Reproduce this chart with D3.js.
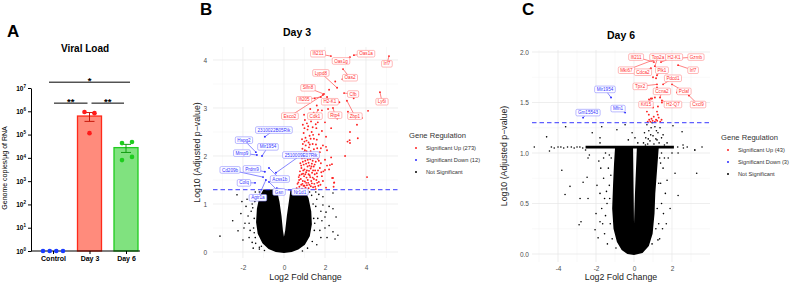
<!DOCTYPE html>
<html>
<head>
<meta charset="utf-8">
<script src="https://cdn.jsdelivr.net/npm/d3@7"></script>
<style>
  body { margin: 0; background: #fff; }
  svg { display: block; font-family: "Liberation Sans", Arial, sans-serif; }
</style>
</head>
<body>
<svg id="chart" width="794" height="284"></svg>
<script>
// ---------- Panel A data ----------
const groups = ['Control', 'Day 3', 'Day 6'];
const controlCopies = [1, 1, 1, 1];
const day3Copies = [9.3e5, 8.3e5, 1.15e5];
const day6Copies = [4.3e4, 4.8e4, 8.0e3, 1.1e4];
const logTicks = [0, 1, 2, 3, 4, 5, 6, 7];
// bracket height given in log10(copies)
const sigBrackets = [
  { a: 'Control', b: 'Day 6', label: '*', level: 7.25 },
  { a: 'Control', b: 'Day 3', label: '**', level: 6.35 },
  { a: 'Day 3', b: 'Day 6', label: '**', level: 6.35 }
];

// ---------- Panel B (Day 3) data: [log2FC, -log10 padj] ----------
const day3LegendCounts = [273, 12];
const day3UpGenes = ['Ifi211', 'Oas1g', 'Oas1a', 'Irf7', 'Lypd8', 'Oas2', 'Cfb', 'Ly6i', 'Slfn8', 'Ifi205', 'H2-K1', 'Esco2', 'Cdk1', 'Rtp4', 'Zbp1'];
const day3UpLabelled = [[2.29, 4.08], [3.22, 4.06], [3.41, 4.10], [5.12, 4.08], [2.59, 3.42], [2.88, 3.81], [2.93, 3.31], [4.68, 3.33], [1.95, 3.29], [1.80, 3.23], [2.10, 3.23], [1.90, 3.27], [1.66, 2.96], [2.39, 3.00], [3.07, 3.15]];
const day3UpLabelPos = [[1.66, 4.13], [2.78, 3.98], [4.0, 4.13], [5.02, 3.92], [1.80, 3.73], [3.22, 3.63], [3.37, 3.29], [4.78, 3.13], [1.17, 3.42], [0.98, 3.17], [2.24, 3.13], [0.29, 2.83], [1.51, 2.83], [2.49, 2.85], [3.46, 2.83]];
const day3UpOther = [
  [0.62, 1.33], [0.75, 1.36], [0.88, 1.32], [0.95, 1.38], [1.05, 1.34], [1.12, 1.39], [1.2, 1.33], [1.31, 1.37], [1.42, 1.35], [1.55, 1.31], [1.68, 1.38], [2.05, 1.34], [2.42, 1.36], [2.45, 1.45],
  [0.7, 1.45], [0.82, 1.52], [0.9, 1.42], [0.98, 1.58], [1.02, 1.47], [1.1, 1.55], [1.18, 1.44], [1.25, 1.6], [1.33, 1.48], [1.4, 1.55], [1.48, 1.42], [1.58, 1.5], [1.7, 1.46], [1.85, 1.58], [2.35, 1.54], [4.05, 1.56], [0.76, 1.6], [1.62, 1.57],
  [0.78, 1.68], [0.85, 1.75], [0.93, 1.63], [1.0, 1.72], [1.08, 1.66], [1.15, 1.78], [1.22, 1.69], [1.3, 1.74], [1.37, 1.65], [1.45, 1.78], [1.52, 1.7], [1.6, 1.64], [1.75, 1.75], [1.92, 1.68], [2.1, 1.8], [2.2, 1.72],
  [0.8, 1.85], [0.88, 1.95], [0.96, 1.82], [1.04, 1.9], [1.12, 1.98], [1.2, 1.86], [1.28, 1.93], [1.36, 1.84], [1.44, 1.96], [1.55, 1.88], [1.65, 1.94], [1.8, 1.85], [2.0, 1.92], [2.98, 2.0], [2.3, 1.97],
  [0.82, 2.05], [0.9, 2.15], [0.98, 2.08], [1.06, 2.22], [1.14, 2.04], [1.22, 2.18], [1.3, 2.1], [1.4, 2.25], [1.5, 2.06], [1.62, 2.16], [1.75, 2.08], [1.9, 2.22], [2.1, 2.12], [1.2, 2.28], [3.1, 2.3], [3.2, 2.33],
  [0.88, 2.35], [0.96, 2.48], [1.05, 2.38], [1.15, 2.55], [1.25, 2.42], [1.35, 2.5], [1.46, 2.36], [1.58, 2.58], [1.7, 2.45], [1.85, 2.52], [2.05, 2.4], [2.3, 2.58],
  [0.92, 2.65], [1.02, 2.75], [1.12, 2.68], [1.22, 2.85], [1.32, 2.72], [1.45, 2.9], [1.55, 2.66], [1.7, 2.8], [1.85, 2.95], [2.0, 2.7], [2.25, 2.82], [2.6, 2.78], [2.15, 2.98],
  [1.6, 3.05], [2.7, 3.12], [3.4, 3.2], [4.1, 2.94], [3.12, 2.92], [3.8, 2.79], [3.56, 2.65], [3.22, 2.5], [3.6, 2.37], [2.5, 3.55], [2.85, 3.6], [1.5, 3.2], [2.2, 3.38],
  [2.39, 1.54], [2.44, 1.44], [2.24, 1.81], [2.34, 1.83], [2.0, 1.71], [2.05, 2.19], [3.22, 2.27],
  [0.66, 1.42], [0.74, 1.5], [0.84, 1.4], [0.92, 1.48], [1.0, 1.38], [1.08, 1.44], [1.16, 1.5], [1.24, 1.4], [1.36, 1.43], [1.46, 1.52], [1.52, 1.36], [1.62, 1.44], [1.78, 1.4], [1.9, 1.48],
  [0.72, 1.56], [0.86, 1.62], [0.94, 1.7], [1.04, 1.62], [1.12, 1.7], [1.2, 1.62], [1.28, 1.56], [1.34, 1.78], [1.42, 1.7], [1.5, 1.62], [1.66, 1.7], [1.82, 1.66],
  [0.84, 1.8], [0.92, 1.88], [1.0, 1.96], [1.08, 1.84], [1.16, 1.92], [1.24, 1.8], [1.32, 1.98], [1.4, 1.9], [1.5, 1.82], [1.6, 2.0], [1.7, 1.9],
  [0.86, 1.98], [0.94, 2.0], [1.02, 2.12], [1.1, 2.1], [1.18, 2.0], [1.26, 2.24], [1.34, 2.02], [1.46, 2.14], [1.56, 2.24], [1.68, 2.0], [1.8, 2.16],
  [0.92, 2.25], [1.0, 2.3], [1.1, 2.32], [1.3, 2.36], [1.42, 2.44], [1.6, 2.34], [1.0, 2.58], [1.18, 2.62], [1.4, 2.6], [1.65, 2.7], [0.98, 2.86], [1.28, 2.98]
];
const day3DownGenes = ['2310022B05Rik', 'Hspg2', 'Mir1954', 'Mmp9', '2510009E07Rik', 'Cd209b', 'Prdm9', 'Acss1b', 'Colq', 'Gsn', 'Nr1d1', 'Agtr1a'];
const day3Down = [[-0.93, 2.40], [-1.37, 2.08], [-1.07, 2.00], [-1.32, 2.02], [-0.39, 1.65], [-1.02, 1.56], [-0.93, 1.67], [-0.73, 1.75], [-1.41, 1.44], [-0.73, 1.46], [-0.35, 1.33], [-0.88, 1.50]];
const day3DownLabelPos = [[-0.49, 2.54], [-1.95, 2.33], [-0.78, 2.19], [-2.05, 2.06], [0.83, 2.02], [-2.63, 1.71], [-1.56, 1.73], [-0.20, 1.52], [-1.95, 1.44], [-0.24, 1.25], [0.78, 1.25], [-1.27, 1.13]];
// outline of the solid non-significant cloud
const day3Core = [
  [[0, -0.02], [-0.4, 0.0], [-0.75, 0.06], [-1.05, 0.18], [-1.28, 0.38], [-1.36, 0.62], [-1.32, 0.9], [-1.2, 1.15], [-1.0, 1.3], [-0.35, 1.3], [-0.22, 1.05], [-0.12, 0.75], [-0.05, 0.45], [0.0, 0.32], [0.06, 0.45], [0.14, 0.75], [0.24, 1.05], [0.32, 1.3], [1.0, 1.3], [1.2, 1.12], [1.33, 0.85], [1.36, 0.58], [1.26, 0.33], [1.02, 0.15], [0.7, 0.05], [0.38, 0.0]]
];
const day3NS = [
  [-3.12, 0.33], [-2.24, 0.44], [-2.29, 1.19], [-1.9, 0.6], [-1.85, 0.95], [-1.7, 0.3], [-2.0, 0.25], [-1.6, 1.15], [-1.75, 0.75], [-1.95, 0.5], [-1.55, 0.2], [-1.65, 0.45], [-1.6, 0.85], [-1.8, 1.1], [-2.1, 0.8], [-2.5, 0.65], [-1.4, 1.25], [-1.2, 0.1], [-1.55, 1.0], [-1.7, 0.6], [-2.05, 1.05], [-1.5, 0.08],
  [-1.45, 0.7], [-1.48, 0.5], [-1.4, 0.3], [-1.2, 0.06], [-0.95, 0.03], [-1.42, 1.05], [-1.2, 1.25], [-1.52, 0.92], [-1.38, 0.18], [-1.45, 0.4], [-1.32, 1.15], [-1.1, 0.12],
  [2.39, 1.23], [1.9, 0.98], [2.2, 0.95], [2.39, 0.9], [2.05, 0.83], [2.54, 0.73], [2.0, 0.73], [1.85, 0.65], [2.0, 0.5], [2.39, 0.42], [2.63, 0.35], [2.49, 0.27], [2.1, 0.3], [1.8, 0.3], [1.6, 1.1], [1.7, 1.2], [1.55, 0.95], [1.75, 0.45], [1.6, 0.15], [1.65, 0.7], [1.9, 1.15], [2.2, 0.55], [1.55, 1.25], [1.8, 0.85],
  [1.45, 0.7], [1.48, 0.45], [1.38, 0.22], [1.15, 0.08], [1.42, 1.0], [1.25, 1.25], [1.5, 0.6], [1.35, 1.18], [0.9, 0.02]
];

// ---------- Panel C (Day 6) data ----------
const day6LegendCounts = [43, 3];
const day6UpGenes = ['Ifi211', 'Top2a', 'H2-K1', 'Gzmb', 'Mki67', 'Cdca2', 'Plk1', 'Irf7', 'Pdcd1', 'Tpx2', 'Ccna2', 'Pclaf', 'Kif15', 'H2-Q7', 'Cxcl9'];
const day6UpLabelled = [[1.05, 1.90], [1.10, 1.86], [1.42, 1.90], [2.42, 1.94], [1.0, 1.92], [0.89, 1.84], [1.21, 1.77], [2.32, 1.87], [1.53, 1.68], [1.21, 1.68], [1.37, 1.55], [2.0, 1.68], [0.95, 1.54], [1.47, 1.52], [2.89, 1.57]];
const day6UpLabelPos = [[0.11, 1.95], [1.26, 1.95], [2.11, 1.95], [3.26, 1.95], [-0.4, 1.82], [0.47, 1.80], [1.47, 1.82], [3.11, 1.82], [2.05, 1.74], [0.32, 1.66], [1.47, 1.61], [2.63, 1.61], [0.63, 1.48], [2.05, 1.48], [3.37, 1.48]];
const day6UpOther = [
  [1.0, 1.75], [1.16, 1.74], [1.21, 1.65], [1.32, 1.60], [1.0, 1.45], [1.26, 1.46], [1.47, 1.5], [1.21, 1.41], [0.79, 1.53], [0.89, 1.54], [1.1, 1.55], [1.74, 1.73], [2.26, 1.6], [0.68, 1.41],
  [0.72, 1.31], [0.80, 1.33], [0.86, 1.31], [0.92, 1.34], [0.98, 1.32], [1.04, 1.36], [1.1, 1.31], [1.16, 1.33], [1.22, 1.32], [1.3, 1.35], [1.38, 1.31], [1.45, 1.33], [0.78, 1.38], [1.25, 1.38]
];
const day6DownGenes = ['Mir1954', 'Mfn1', 'Gm15543'];
const day6Down = [[-1.21, 1.55], [-0.47, 1.40], [-2.68, 1.35]];
const day6DownLabelPos = [[-1.53, 1.63], [-0.84, 1.44], [-2.42, 1.40]];
const day6Core = [
  [[0, -0.01], [-0.35, 0.0], [-0.65, 0.04], [-0.9, 0.12], [-1.08, 0.25], [-1.15, 0.45], [-1.1, 0.7], [-1.05, 0.9], [-1.0, 1.05], [-0.05, 1.05], [-0.02, 0.6], [0.0, 0.3], [0.05, 0.6], [0.15, 1.05], [1.3, 1.05], [1.22, 0.85], [1.12, 0.6], [1.08, 0.4], [0.98, 0.2], [0.78, 0.08], [0.45, 0.01]],
  [[-2.55, 1.045], [2.1, 1.045], [2.1, 1.072], [-2.55, 1.072]]
];
const day6NS = [
  [0.5, 1.1], [0.55, 1.2], [0.62, 1.15], [0.68, 1.28], [0.72, 1.09], [0.78, 1.22], [0.84, 1.12], [0.9, 1.25], [0.95, 1.3], [1.0, 1.17], [1.05, 1.09], [1.1, 1.26], [1.15, 1.14], [1.21, 1.13], [1.26, 1.2], [1.32, 1.1], [1.37, 1.25], [1.45, 1.15], [1.53, 1.18], [1.6, 1.08], [1.74, 1.1], [2.05, 1.27], [2.53, 1.21], [2.58, 1.08], [0.6, 1.08], [0.88, 1.18], [1.18, 1.22], [0.75, 1.14],
  [-0.47, 1.28], [-0.3, 1.13], [-0.1, 1.2], [0.05, 1.15], [0.2, 1.1], [-0.9, 1.23], [-1.7, 1.26], [-1.79, 1.15], [-1.79, 1.1], [-2.2, 1.2], [-3.6, 1.26], [-4.6, 1.16],
  [-5.25, 1.06], [-4.35, 1.06], [-4.2, 1.05], [-4.0, 1.06], [-3.85, 1.06], [-3.7, 1.05], [-3.5, 1.06], [-3.3, 1.06], [-3.15, 1.05], [-3.0, 1.06], [-2.85, 1.06], [-2.7, 1.05], [-4.45, 1.02], [-2.55, 1.03],
  [2.3, 1.06], [2.6, 1.05], [2.8, 1.06], [3.2, 1.03], [3.58, 1.06], [2.32, 1.0],
  [-3.8, 0.83], [-3.37, 0.67], [-3.63, 0.59], [-2.84, 0.55], [-2.79, 0.32], [-2.89, 0.29], [-2.68, 0.71], [-2.47, 0.76], [-2.42, 0.95], [-2.35, 0.98], [-2.42, 0.55], [-1.95, 0.68], [-1.79, 0.6], [-2.05, 0.24], [-1.89, 0.16], [-1.79, 0.32], [-1.7, 0.45], [-1.75, 0.85], [-1.6, 0.95], [-1.55, 0.2], [-1.5, 0.38], [-1.45, 0.62], [-1.6, 0.75], [-1.4, 0.1], [-1.35, 0.85], [-1.5, 1.0], [-1.42, 0.5], [-1.65, 0.3], [-1.3, 0.98], [-1.85, 0.92], [-2.0, 0.4], [-1.55, 0.55],
  [-1.25, 0.3], [-1.28, 0.55], [-1.22, 0.78], [-1.2, 0.95], [-1.15, 0.15], [-0.95, 0.06], [-1.3, 0.68],
  [2.32, 0.58], [1.3, 0.3], [1.26, 0.14], [1.74, 0.73], [2.16, 0.8], [3.3, 0.8], [3.2, 1.03], [1.53, 0.85], [1.45, 0.5], [1.6, 0.95], [1.4, 0.7], [1.5, 0.25], [1.65, 0.6], [1.8, 0.95], [1.4, 0.9], [1.55, 0.4], [1.35, 0.15], [1.9, 0.45], [2.0, 1.0], [1.45, 1.0], [1.7, 0.3],
  [1.22, 0.45], [1.3, 0.7], [1.35, 0.95], [1.15, 0.25], [0.95, 0.1]
];

const padjCut = -Math.log10(0.05);

// ---------- drawing ----------
const svg = d3.select('#chart');
const upColor = '#ff2222', downColor = '#2a2aff';

// ===== Panel A =====
const xA = d3.scalePoint().domain(groups).range([53, 126]);
const yA = d3.scaleLog().domain([1, 1e7]).range([251, 88]);
const barW = 24;
const dotOffsets = { 'Control': [-10, -3.3, 3.3, 10], 'Day 3': [-5, 5, 0], 'Day 6': [-4, 6, -4, 6] };
const groupData = [
  { g: 'Control', v: controlCopies, fill: 'none', stroke: '#1a3cff', dot: '#1a3cff', err: '#1a3cff' },
  { g: 'Day 3', v: day3Copies, fill: '#ff8b7c', stroke: '#ff2a1a', dot: '#ff1a1a', err: '#c8190c' },
  { g: 'Day 6', v: day6Copies, fill: '#80e27f', stroke: '#1fcc1f', dot: '#1ecc1e', err: '#139d13' }
];

svg.append('text').attr('x', 7).attr('y', 37).attr('font-size', 17).attr('font-weight', 'bold').text('A');
svg.append('text').attr('x', 85).attr('y', 52).attr('text-anchor', 'middle')
  .attr('font-size', 10).attr('font-weight', 'bold').text('Viral Load');

// bars
groupData.forEach(d => {
  const m = d3.mean(d.v);
  if (m > 1) {
    svg.append('rect')
      .attr('x', xA(d.g) - barW / 2).attr('y', yA(m))
      .attr('width', barW).attr('height', yA(1) - yA(m))
      .attr('fill', d.fill).attr('stroke', d.stroke).attr('stroke-width', 1.3);
    const sem = d3.deviation(d.v) / Math.sqrt(d.v.length);
    const e = svg.append('g').attr('stroke', d.err).attr('stroke-width', 1);
    e.append('line').attr('x1', xA(d.g)).attr('x2', xA(d.g)).attr('y1', yA(m - sem)).attr('y2', yA(m + sem));
    [m - sem, m + sem].forEach(v => {
      e.append('line').attr('x1', xA(d.g) - 5).attr('x2', xA(d.g) + 5).attr('y1', yA(v)).attr('y2', yA(v));
    });
  }
});

// axes
const yAxisA = svg.append('g').attr('transform', 'translate(31,0)')
  .call(d3.axisLeft(yA).tickValues(logTicks.map(k => Math.pow(10, k))).tickSize(3).tickSizeOuter(0).tickPadding(2).tickFormat(''));
yAxisA.selectAll('path, line').attr('stroke', '#000').attr('stroke-width', 1);
yAxisA.selectAll('text').attr('font-size', 6.5).attr('font-weight', 'bold').attr('fill', '#000')
  .each(function (d) {
    const t = d3.select(this);
    t.append('tspan').text('10');
    t.append('tspan').attr('dy', -2.8).attr('font-size', 4.5).text(Math.round(Math.log10(d)));
  });

svg.append('line').attr('x1', 31).attr('x2', 140).attr('y1', yA(1)).attr('y2', yA(1))
  .attr('stroke', '#000').attr('stroke-width', 1);
const xAxisA = svg.append('g').attr('transform', `translate(0,${yA(1)})`)
  .call(d3.axisBottom(xA).tickSize(3).tickSizeOuter(0).tickPadding(2.5));
xAxisA.select('.domain').remove();
xAxisA.selectAll('line').attr('stroke', '#000');
xAxisA.selectAll('text').attr('font-size', 7).attr('font-weight', 'bold').attr('fill', '#000');

svg.append('text').attr('transform', 'translate(7,168) rotate(-90)').attr('text-anchor', 'middle')
  .attr('font-size', 7).text('Genome copies/µg of RNA');

// dots
groupData.forEach(d => {
  svg.append('g').selectAll('circle').data(d.v).join('circle')
    .attr('cx', (v, i) => xA(d.g) + dotOffsets[d.g][i])
    .attr('cy', v => yA(v)).attr('r', 2.3).attr('fill', d.dot);
});

// significance brackets
sigBrackets.forEach(b => {
  const wide = b.a === 'Control' && b.b === 'Day 6';
  const x1 = xA(b.a) + (wide ? -4 : (b.a === 'Control' ? 1 : 2));
  const x2 = xA(b.b) + (wide ? 4 : -2);
  const yy = yA(Math.pow(10, b.level));
  svg.append('line').attr('x1', x1).attr('x2', x2).attr('y1', yy).attr('y2', yy)
    .attr('stroke', '#000').attr('stroke-width', 1);
  svg.append('text').attr('x', (x1 + x2) / 2).attr('y', yy + 1.5).attr('text-anchor', 'middle')
    .attr('font-size', 9.5).attr('font-weight', 'bold').text(b.label);
});

// ===== Volcano panels =====
function drawVolcano(cfg) {
  const x = d3.scaleLinear().domain(cfg.xDomain).range([cfg.left, cfg.right]);
  const y = d3.scaleLinear().domain(cfg.yDomain).range([cfg.bottom, cfg.top]);
  const g = svg.append('g');

  // grid
  const xStep = cfg.xTicks[1] - cfg.xTicks[0];
  const yStep = cfg.yTicks[1] - cfg.yTicks[0];
  const xMinor = cfg.xTicks.map(t => t - xStep / 2).concat([cfg.xTicks[cfg.xTicks.length - 1] + xStep / 2, cfg.xTicks[cfg.xTicks.length - 1] + 1.5 * xStep])
    .filter(t => t > cfg.xDomain[0] && t < cfg.xDomain[1]);
  const yMinor = cfg.yTicks.map(t => t + yStep / 2).filter(t => t > cfg.yDomain[0] && t < cfg.yDomain[1]);
  g.selectAll('.vminor').data(xMinor).join('line')
    .attr('x1', d => x(d)).attr('x2', d => x(d)).attr('y1', cfg.top).attr('y2', cfg.bottom)
    .attr('stroke', '#f3f3f3').attr('stroke-width', 0.5);
  g.selectAll('.hminor').data(yMinor).join('line')
    .attr('y1', d => y(d)).attr('y2', d => y(d)).attr('x1', cfg.left).attr('x2', cfg.right)
    .attr('stroke', '#f3f3f3').attr('stroke-width', 0.5);
  g.selectAll('.vmajor').data(cfg.xTicks).join('line')
    .attr('x1', d => x(d)).attr('x2', d => x(d)).attr('y1', cfg.top).attr('y2', cfg.bottom)
    .attr('stroke', '#e6e6e6').attr('stroke-width', 0.7);
  g.selectAll('.hmajor').data(cfg.yTicks).join('line')
    .attr('y1', d => y(d)).attr('y2', d => y(d)).attr('x1', cfg.left).attr('x2', cfg.right)
    .attr('stroke', '#e6e6e6').attr('stroke-width', 0.7);

  // tick labels
  const xAx = g.append('g').attr('transform', `translate(0,${cfg.xTickY})`)
    .call(d3.axisBottom(x).tickValues(cfg.xTicks).tickSize(0).tickPadding(0).tickFormat(d => String(d)));
  const yAx = g.append('g').attr('transform', `translate(${cfg.yTickX},0)`)
    .call(d3.axisLeft(y).tickValues(cfg.yTicks).tickSize(0).tickPadding(0).tickFormat(cfg.yFormat));
  [xAx, yAx].forEach(a => {
    a.select('.domain').remove();
    a.selectAll('text').attr('font-size', 6.5).attr('fill', '#4d4d4d').attr('font-family', '"Liberation Sans", Arial, sans-serif');
  });

  // titles
  svg.append('text').attr('x', cfg.letterX).attr('y', 15).attr('font-size', 17).attr('font-weight', 'bold').text(cfg.letter);
  svg.append('text').attr('x', cfg.titleX).attr('y', cfg.titleY).attr('text-anchor', 'middle')
    .attr('font-size', 10.5).attr('font-weight', 'bold').text(cfg.title);
  svg.append('text').attr('x', (cfg.left + cfg.right) / 2).attr('y', 280).attr('text-anchor', 'middle')
    .attr('font-size', 8.8).attr('fill', '#222').text('Log2 Fold Change');
  svg.append('text').attr('transform', `translate(${cfg.yTitleX},${(cfg.top + cfg.bottom) / 2}) rotate(-90)`)
    .attr('text-anchor', 'middle').attr('font-size', 8.8).attr('fill', '#222').text('Log10 (Adjusted p\u2212value)');

  // non-significant
  const area = d3.line().x(d => x(d[0])).y(d => y(d[1])).curve(d3.curveLinearClosed);
  g.selectAll('.core').data(cfg.core).join('path').attr('d', area).attr('fill', '#000');
  g.append('g').selectAll('circle').data(cfg.ns).join('circle')
    .attr('cx', d => x(d[0])).attr('cy', d => y(d[1])).attr('r', 0.8).attr('fill', '#000');

  // significant
  g.append('g').selectAll('circle').data(cfg.upOther.concat(cfg.upLab)).join('circle')
    .attr('cx', d => x(d[0])).attr('cy', d => y(d[1])).attr('r', 0.95).attr('fill', upColor);
  g.append('g').selectAll('circle').data(cfg.down).join('circle')
    .attr('cx', d => x(d[0])).attr('cy', d => y(d[1])).attr('r', 0.95).attr('fill', downColor);

  // threshold
  g.append('line').attr('x1', cfg.left).attr('x2', cfg.right).attr('y1', y(padjCut)).attr('y2', y(padjCut))
    .attr('stroke', '#4444ff').attr('stroke-opacity', 0.85).attr('stroke-width', 1.2).attr('stroke-dasharray', '4.5,3');

  // labels
  function labels(genes, pts, pos, col, border) {
    const lg = g.append('g');
    genes.forEach((gene, i) => {
      const lx = x(pos[i][0]), ly = y(pos[i][1]);
      lg.append('line').attr('x1', lx).attr('y1', ly).attr('x2', x(pts[i][0])).attr('y2', y(pts[i][1]))
        .attr('stroke', col).attr('stroke-width', 0.6);
    });
    genes.forEach((gene, i) => {
      const lx = x(pos[i][0]), ly = y(pos[i][1]);
      const box = lg.append('rect');
      const t = lg.append('text').attr('x', lx).attr('y', ly + 1.6).attr('text-anchor', 'middle')
        .attr('font-size', 4.6).attr('fill', col).text(gene);
      const w = t.node().getComputedTextLength() + 4;
      box.attr('x', lx - w / 2).attr('y', ly - 3.3).attr('width', w).attr('height', 6.6)
        .attr('rx', 1.3).attr('fill', '#fff').attr('stroke', border).attr('stroke-width', 0.6);
    });
  }
  labels(cfg.upGenes, cfg.upLab, cfg.upPos, '#ff3030', '#ff8a8a');
  labels(cfg.downGenes, cfg.down, cfg.downPos, '#3535ff', '#8c8cff');

  // legend
  const lgd = svg.append('g');
  lgd.append('text').attr('x', cfg.legX).attr('y', cfg.legY).attr('font-size', 7.6).attr('fill', '#333').text('Gene Regulation');
  const items = [
    { c: upColor, t: `Significant Up (${cfg.counts[0]})` },
    { c: downColor, t: `Significant Down (${cfg.counts[1]})` },
    { c: '#000', t: 'Not Significant' }
  ];
  items.forEach((it, i) => {
    const yy = cfg.legY + 10 + i * 12;
    lgd.append('circle').attr('cx', cfg.legX + 7).attr('cy', yy).attr('r', 1).attr('fill', it.c);
    lgd.append('text').attr('x', cfg.legX + 17).attr('y', yy + 2).attr('font-size', 5.7).attr('fill', '#333').text(it.t);
  });
}

drawVolcano({
  letter: 'B', letterX: 200, title: 'Day 3', titleX: 297, titleY: 36,
  left: 213, right: 398, top: 47, bottom: 258,
  xDomain: [-3.46, 5.56], yDomain: [-0.125, 4.27],
  xTicks: [-2, 0, 2, 4], yTicks: [0, 1, 2, 3, 4], yFormat: d3.format('d'),
  xTickY: 265, yTickX: 207, yTitleX: 199.5,
  core: day3Core, ns: day3NS,
  upGenes: day3UpGenes, upLab: day3UpLabelled, upPos: day3UpLabelPos, upOther: day3UpOther,
  downGenes: day3DownGenes, down: day3Down, downPos: day3DownLabelPos,
  counts: day3LegendCounts, legX: 409, legY: 138
});

drawVolcano({
  letter: 'C', letterX: 522, title: 'Day 6', titleX: 621, titleY: 39,
  left: 532, right: 710, top: 50, bottom: 262,
  xDomain: [-5.37, 4.0], yDomain: [-0.079, 2.02],
  xTicks: [-4, -2, 0, 2], yTicks: [0, 0.5, 1, 1.5, 2], yFormat: d3.format('.1f'),
  xTickY: 266, yTickX: 529, yTitleX: 506.5,
  core: day6Core, ns: day6NS,
  upGenes: day6UpGenes, upLab: day6UpLabelled, upPos: day6UpLabelPos, upOther: day6UpOther,
  downGenes: day6DownGenes, down: day6Down, downPos: day6DownLabelPos,
  counts: day6LegendCounts, legX: 721, legY: 140
});
</script>
</body>
</html>
